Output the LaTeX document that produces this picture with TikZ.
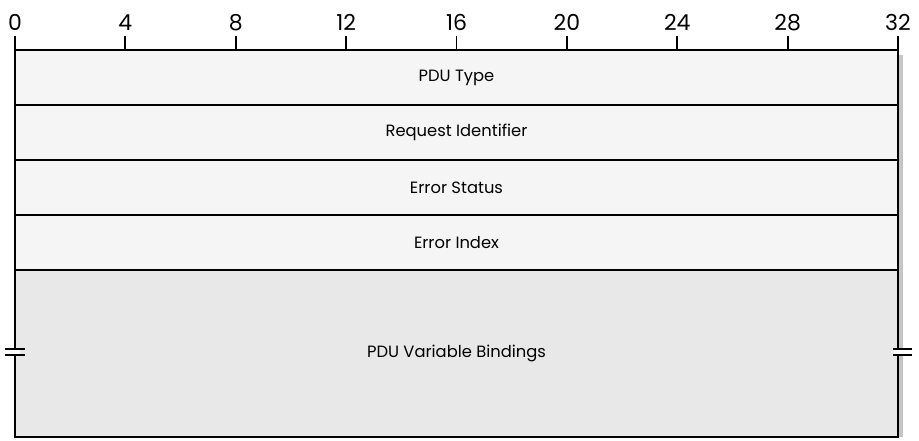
\documentclass[tikz,border=0pt]{standalone}
\usepackage{fontspec}
\setmainfont{Poppins}
\usetikzlibrary{positioning, calc}
\definecolor{rowfill}{HTML}{F5F5F5}
\definecolor{varfill}{HTML}{E8E8E8}
\tikzset{
  field/.style={rectangle, draw=black, line width=1.1pt, fill=#1, inner sep=0pt, outer sep=0pt,
                minimum width=17.66cm, minimum height=1.1cm, align=center,
                font=\fontsize{9.3}{11}\selectfont},
  field/.default=rowfill,
  tick/.style={line width=1.1pt},
  bitnum/.style={font=\fontsize{12.5}{14}\selectfont, inner sep=0pt, anchor=base},
  brk/.style={line width=1.1pt},
}

\begin{document}
\begin{tikzpicture}
  \useasboundingbox (0,0) rectangle (18.38,-8.8);
  % shadow on the right edge
  \fill[gray!45] (17.96,-1.1) rectangle (18.06,-8.74);

  \node[field, anchor=north west] (pdutype) at (0.3,-1.0) {PDU Type};
  \node[field, below=0pt of pdutype] (reqid) {Request Identifier};
  \node[field, below=0pt of reqid] (errstat) {Error Status};
  \node[field, below=0pt of errstat] (erridx) {Error Index};
  \node[field=varfill, minimum height=3.34cm, below=0pt of erridx] (varbind) {PDU Variable Bindings};

  % bit ruler
  \foreach \b in {0,4,...,32} {
    \coordinate (t\b) at ($(pdutype.north west)!\b/32!(pdutype.north east)$);
    \draw[tick] (t\b) -- ++(0,0.28);
    \node[bitnum] (n\b) at ($(t\b)+(0,0.4)$) {\b};
  }

  % break marks
  \fill[white] (0.2,-6.98) rectangle (0.4,-7.10);
  \draw[brk] (0.1,-6.98) -- (0.5,-6.98) (0.1,-7.10) -- (0.5,-7.10);
  \fill[white] (17.86,-6.98) rectangle (18.06,-7.10);
  \draw[brk] (17.86,-6.98) -- (18.24,-6.98) (17.86,-7.10) -- (18.24,-7.10);
\end{tikzpicture}
\end{document}
